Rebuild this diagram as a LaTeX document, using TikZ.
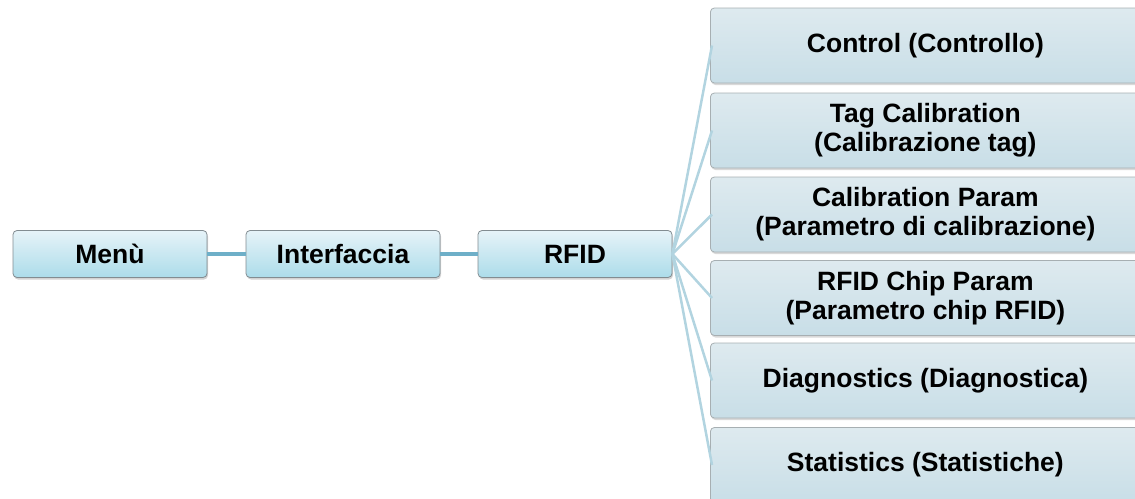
\documentclass[tikz,border=0pt]{standalone}
\usepackage{fontspec}
\setmainfont{Liberation Sans}
\usetikzlibrary{shadows}
\definecolor{lineblue}{RGB}{110,175,200}
\definecolor{branchblue}{RGB}{178,212,224}
\definecolor{boxtop}{RGB}{230,243,248}
\definecolor{boxbot}{RGB}{172,220,234}
\definecolor{rtop}{RGB}{222,234,239}
\definecolor{rbot}{RGB}{200,222,231}
\definecolor{rimcol}{RGB}{130,140,145}
\tikzset{
  lbox/.style={draw=rimcol, line width=0.8pt, rounded corners=4pt,
    top color=boxtop, bottom color=boxbot, minimum width=194pt, minimum height=47pt,
    font=\fontsize{26.5}{29}\selectfont\bfseries, align=center,
    drop shadow={shadow xshift=1pt, shadow yshift=-2pt, opacity=0.35}},
  rbox/.style={draw=rimcol!70, line width=0.8pt, rounded corners=4pt,
    top color=rtop, bottom color=rbot, minimum width=430pt, minimum height=75pt,
    font=\fontsize{26.5}{29}\selectfont\bfseries, align=center,
    drop shadow={shadow xshift=1pt, shadow yshift=-2pt, opacity=0.3}},
  mainlink/.style={draw=lineblue, line width=4pt},
  branch/.style={draw=branchblue, line width=2.5pt},
}
\begin{document}
\begin{tikzpicture}[x=1pt,y=-1pt]
\useasboundingbox (0,0) rectangle (1135,498);
\node[lbox] (menu) at (110,254) {Menù};
\node[lbox] (intf) at (343,254) {Interfaccia};
\node[lbox] (rfid) at (575,254) {RFID};
\draw[mainlink] (menu.east) -- (intf.west);
\draw[mainlink] (intf.east) -- (rfid.west);
\coordinate (hub) at (rfid.east);
\node[rbox, anchor=west] (r1) at (710,45.5) {Control (Controllo)};
\node[rbox, anchor=west] (r2) at (710,130.5) {Tag Calibration\\(Calibrazione tag)};
\node[rbox, anchor=west] (r3) at (710,214.5) {Calibration Param\\(Parametro di calibrazione)};
\node[rbox, anchor=west] (r4) at (710,298) {RFID Chip Param\\(Parametro chip RFID)};
\node[rbox, anchor=west] (r5) at (710,380.5) {Diagnostics (Diagnostica)};
\node[rbox, anchor=west] (r6) at (710,465) {Statistics (Statistiche)};
\foreach \n in {r1,r2,r3,r4,r5,r6}{
  \draw[branch] (hub) -- ([xshift=2pt]\n.west);
}
\end{tikzpicture}
\end{document}
